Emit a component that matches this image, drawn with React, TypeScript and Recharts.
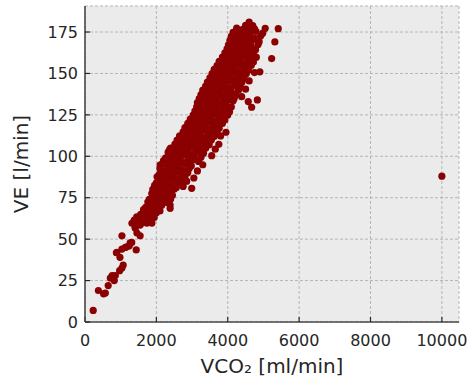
import React from 'react';
import { ScatterChart, Scatter, XAxis, YAxis, CartesianGrid } from 'recharts';

// [VCO2 (ml/min), VE (l/min)]
const lowRange: [number, number][] = [
  [230, 7], [375, 19], [520, 17], [570, 17.5], [650, 22], [710, 26.5], [760, 28], [850, 28], [820, 25],
  [895, 42], [970, 31], [1035, 32.6], [1070, 34.4], [980, 39], [880, 41.8], [1035, 44], [1130, 45],
  [1175, 45.4], [1240, 46], [1265, 47.7], [1310, 48], [1435, 43.5], [1035, 52], [1455, 53.7], [1405, 56.7],
  [1545, 52], [1350, 60], [1315, 59.6], [1410, 57], [1545, 58.5], [1630, 60], [1735, 59.7], [1875, 59.7],
  [1640, 64.6], [1770, 66.6], [1825, 67.6], [1875, 69.6], [1920, 71.6], [1965, 71.8], [1910, 76.6],
  [2015, 78.6], [2105, 81.7], [2190, 83.9], [2295, 82.7], [2385, 68.6], [2385, 70.6], [2990, 80.7],
  [2750, 83.9], [2575, 84.7], [2155, 73.6],
];

const midRange: [number, number][] = [
  [1380, 61.5], [1520, 60.5], [1700, 62], [1860, 61],
  [1450, 63.5], [1620, 62.8], [1780, 64], [1940, 63],
  [1560, 65], [1700, 66.2], [1850, 65.4], [2000, 66],
  [1640, 67.8], [1800, 67.2], [1960, 68.1], [2100, 67],
  [1700, 69.2], [1850, 70.1], [2000, 69.6], [2150, 70.4],
  [1760, 72.4], [1900, 71.5], [2060, 72.8], [2200, 72], [2340, 71.8],
  [1800, 74], [1950, 75.2], [2100, 74.6], [2240, 75], [2400, 74.2],
  [1870, 77.5], [2000, 76.8], [2150, 77.8], [2300, 77.1], [2450, 76.5],
  [1900, 80], [2050, 79.2], [2200, 80.4], [2350, 79.6], [2500, 80.1],
  [1950, 82.5], [2100, 81.5], [2260, 82.8], [2400, 82], [2560, 81.2], [2750, 81.8],
  [2000, 84], [2150, 85.2], [2300, 84.6], [2450, 85.5], [2600, 84.2], [2850, 85],
  [2020, 87.6], [2180, 86.8], [2340, 87.9], [2500, 87.2], [2650, 86.5], [2800, 87.8], [3050, 86.9],
  [2080, 89], [2230, 90.1], [2400, 89.5], [2550, 90.4], [2700, 89.2], [2880, 90],
  [2100, 92.5], [2280, 91.8], [2440, 92.9], [2600, 92.1], [2760, 91.5], [2920, 92.6], [3150, 91.2],
  [2120, 94.8], [2300, 94], [2480, 95.2], [2640, 94.6], [2800, 95.5], [2980, 94.3], [3300, 94.9],
  [2200, 97.4], [2360, 96.6], [2520, 97.8], [2680, 97.1], [2840, 96.5], [3000, 97.6], [3180, 96.9],
  [2260, 99], [2420, 100.2], [2580, 99.6], [2740, 100.5], [2900, 99.3], [3060, 100], [3250, 99.4], [3550, 100.4],
  [2330, 102.5], [2500, 101.7], [2660, 102.8], [2820, 102.1], [2980, 101.5], [3140, 102.6], [3320, 101.9],
  [2370, 104], [2105, 94.7],
  [2400, 104.9], [2560, 104.2], [2720, 105.1], [2880, 104.5], [3040, 105.4], [3200, 104], [3380, 104.8], [3650, 104.3],
  [2520, 107.3], [2680, 106.6], [2840, 107.8], [3000, 107.1], [3160, 106.5], [3320, 107.5], [3480, 106.9], [3750, 107.2],
  [2580, 109.8], [2740, 109.1], [2900, 110.2], [3060, 109.5], [3220, 110], [3380, 109.2], [3540, 109.9],
  [2650, 112.4], [2810, 111.6], [2970, 112.7], [3130, 112], [3290, 111.4], [3450, 112.5], [3620, 111.9], [3800, 112.3],
  [2750, 114.8], [2900, 114.1], [3060, 115.2], [3220, 114.6], [3380, 115.4], [3540, 114.2], [3700, 114.9], [3950, 114.5],
  [2800, 117.3], [2960, 116.6], [3120, 117.7], [3280, 117.1], [3440, 116.4], [3600, 117.5], [3760, 116.9],
  [2880, 119.9], [3040, 119.1], [3200, 120.1], [3360, 119.4], [3520, 120.3], [3680, 119.2], [3850, 119.8],
];

const highRange: [number, number][] = [
  [2950, 122.4], [3110, 121.6], [3270, 122.7], [3430, 122.1], [3590, 121.5], [3750, 122.6], [3920, 121.9],
  [3030, 124.8], [3190, 124.1], [3350, 125.2], [3510, 124.6], [3670, 125.4], [3830, 124.3], [4000, 124.9],
  [3080, 127.3], [3240, 126.6], [3400, 127.8], [3560, 127.1], [3720, 126.5], [3880, 127.5], [4050, 126.9],
  [3130, 129.9], [3290, 129.1], [3450, 130.2], [3610, 129.5], [3770, 130.4], [3930, 129.3], [4100, 129.8], [4670, 129.6],
  [3150, 132.4], [3320, 131.6], [3480, 132.7], [3640, 132.1], [3800, 131.5], [3960, 132.6], [4150, 133.5], [4575, 133],
  [3200, 134.8], [3360, 134.1], [3520, 135.2], [3680, 134.6], [3840, 135.4], [4000, 134.2], [4180, 134.9], [4390, 136], [4830, 134],
  [3250, 137.3], [3410, 136.6], [3570, 137.7], [3730, 137.1], [3890, 136.5], [4050, 137.6], [4220, 136.9],
  [3300, 139.9], [3460, 139.1], [3620, 140.2], [3780, 139.5], [3940, 140.3], [4100, 139.2], [4300, 139.8], [4500, 140.5],
  [3380, 142.4], [3540, 141.6], [3700, 142.7], [3860, 142.1], [4020, 141.5], [4180, 142.6], [4350, 141.9],
  [3430, 144.8], [3590, 144.1], [3750, 145.2], [3910, 144.6], [4070, 145.4], [4230, 144.3], [4400, 144.9], [4600, 145.5],
  [3500, 147.3], [3660, 146.6], [3820, 147.7], [3980, 147.1], [4140, 146.5], [4300, 147.6], [4460, 146.9],
  [3560, 149.9], [3720, 149.1], [3880, 150.2], [4040, 149.5], [4200, 150.3], [4360, 149.2], [4520, 149.8], [4750, 150.5],
  [3620, 152.4], [3780, 151.6], [3940, 152.7], [4100, 152.1], [4260, 151.5], [4420, 152.6], [4580, 151.9], [4900, 151],
  [3700, 154.8], [3860, 154.1], [4020, 155.2], [4180, 154.6], [4340, 155.4], [4500, 154.3], [4660, 154.9],
  [3760, 157.3], [3920, 156.6], [4080, 157.7], [4240, 157.1], [4400, 156.5], [4560, 157.6], [4720, 156.9], [5230, 159],
  [3850, 159.9], [4010, 159.1], [4170, 160.2], [4330, 159.5], [4490, 160.3], [4650, 159.2], [4800, 159.8],
  [3920, 162.4], [4080, 161.6], [4240, 162.7], [4400, 162.1], [4560, 161.5], [4720, 162.6],
  [3980, 164.8], [4140, 164.1], [4300, 165.2], [4460, 164.6], [4620, 165.4], [4780, 164.3],
  [4020, 167.3], [4180, 166.6], [4340, 167.8], [4500, 167.1], [4660, 166.5], [4850, 167.5],
  [4060, 169.9], [4220, 169.1], [4380, 170.2], [4540, 169.5], [4700, 170.3], [4880, 169.2], [5320, 169],
  [4100, 172.4], [4260, 171.6], [4420, 172.7], [4580, 172.1], [4740, 171.5], [4920, 172.6],
  [4150, 174.8], [4310, 174.1], [4470, 175.2], [4630, 174.6], [4790, 175.4], [4980, 174.3],
  [4250, 177.3], [4420, 176.6], [4580, 177.6], [4750, 176.9], [5050, 177.2], [5415, 177],
  [4500, 179], [4700, 178.8], [4600, 181],
];

const outliers: [number, number][] = [[10000, 88]];

const xTicks = [0, 2000, 4000, 6000, 8000, 10000];
const yTicks = [0, 25, 50, 75, 100, 125, 150, 175];
const xDomain: [number, number] = [0, 10480];
const yDomain: [number, number] = [0, 190.7];

const data = [...lowRange, ...midRange, ...highRange, ...outliers].map(([x, y]) => ({ x, y }));

const FONT = 'DejaVu Sans, sans-serif';

const Dot = (props: any) => (
  <circle cx={props.cx} cy={props.cy} r={3.6} fill="#8b0000" />
);

const YLabel = (props: any) => {
  const vb = props.viewBox || {};
  const cx = vb.x + 21;
  const cy = vb.y + vb.height / 2;
  return (
    <text x={cx} y={cy} transform={`rotate(-90, ${cx}, ${cy})`} textAnchor="middle"
      dominantBaseline="central" fontSize={20} fill="#262626" fontFamily={FONT}>
      VE [l/min]
    </text>
  );
};

const XLabel = (props: any) => {
  const vb = props.viewBox || {};
  const cx = vb.x + vb.width / 2;
  const cy = vb.y + 44;
  return (
    <text x={cx} y={cy} textAnchor="middle" dominantBaseline="central" fontSize={20}
      fill="#262626" fontFamily={FONT}>
      VCO₂ [ml/min]
    </text>
  );
};

export default function App() {
  return (
    <div style={{ position: 'absolute', left: 0, top: 0, width: 471, height: 389, background: '#fff' }}>
      <ScatterChart width={471} height={389} margin={{ top: 6, right: 12, bottom: 0, left: 0 }}>
        <CartesianGrid fill="#ebebeb" stroke="#b5b5b5" strokeDasharray="3 2" />
        <XAxis type="number" dataKey="x" domain={xDomain} ticks={xTicks} allowDataOverflow
          height={67} tickSize={-5} tickMargin={18}
          tickLine={{ stroke: '#262626', strokeWidth: 1.2 }}
          axisLine={{ stroke: '#4a4a4a', strokeWidth: 1.6 }}
          tick={{ fontSize: 16, fill: '#262626', fontFamily: FONT }}
          label={<XLabel />} />
        <YAxis type="number" dataKey="y" domain={yDomain} ticks={yTicks} allowDataOverflow
          width={85} tickSize={-5} tickMargin={12}
          tickLine={{ stroke: '#262626', strokeWidth: 1.2 }}
          axisLine={{ stroke: '#4a4a4a', strokeWidth: 1.6 }}
          tick={{ fontSize: 16, fill: '#262626', fontFamily: FONT }}
          label={<YLabel />} />
        <XAxis xAxisId="top" orientation="top" type="number" dataKey="x" domain={xDomain} height={0}
          tick={false} tickLine={false} axisLine={{ stroke: '#cfcfcf', strokeWidth: 1.2 }} />
        <YAxis yAxisId="right" orientation="right" type="number" dataKey="y" domain={yDomain} width={0}
          tick={false} tickLine={false} axisLine={{ stroke: '#cfcfcf', strokeWidth: 1.2 }} />
        <Scatter data={data} shape={<Dot />} isAnimationActive={false} />
      </ScatterChart>
    </div>
  );
}
